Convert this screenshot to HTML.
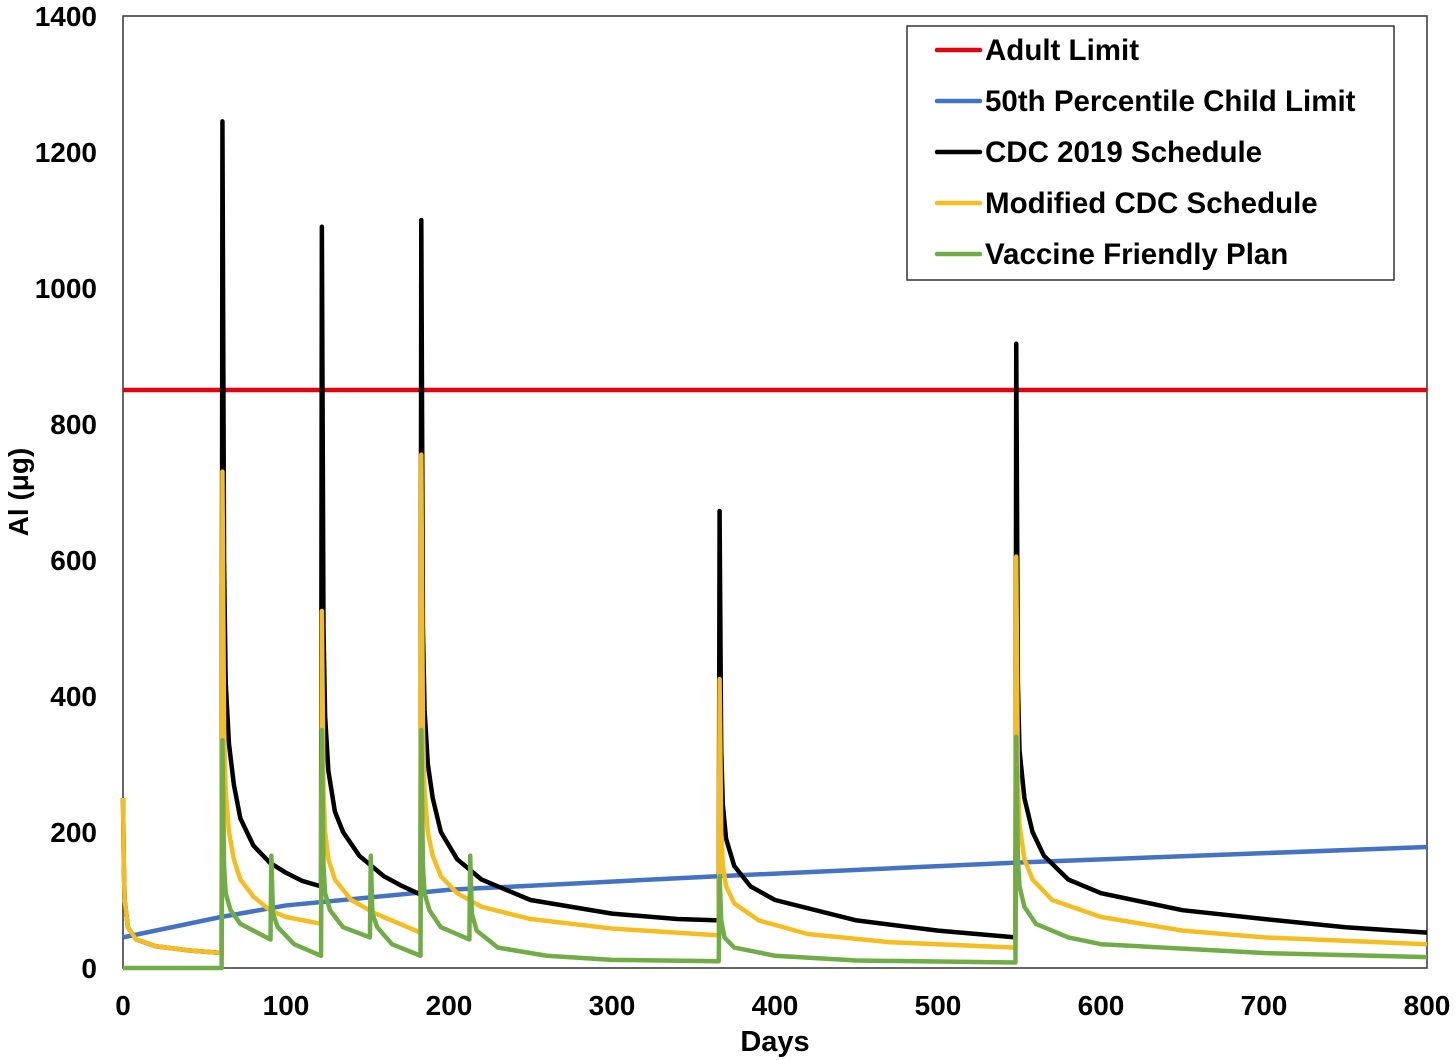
<!DOCTYPE html>
<html><head><meta charset="utf-8"><style>
body{margin:0;background:#fff;}
svg{display:block;font-family:"Liberation Sans",Arial,sans-serif;font-weight:bold;}
</style></head><body>
<svg id="chart" width="1456" height="1060" viewBox="0 0 1456 1060">
<rect x="123" y="16" width="1304" height="952" fill="none" stroke="#333" stroke-width="1.5"/>
<g id="yticks"></g>
<g id="xticks"></g>
<text x="775" y="1051" font-size="29" text-anchor="middle">Days</text>
<text x="0" y="0" font-size="28" text-anchor="middle" transform="translate(28,492) rotate(-90)">Al (μg)</text>
<g id="series"></g>
<g>
<rect x="907" y="26" width="487" height="254" fill="#fff" stroke="#333" stroke-width="1.5"/>
<g id="legend"></g>
</g>
</svg>
<script>
const yTicks=[0,200,400,600,800,1000,1200,1400];
const xTicks=[0,100,200,300,400,500,600,700,800];
const adultLimit=850;
const childDays=[0,60,100,200,365,548,800];
const childVals=[45,75,92,115,135,155,178];
const cdcDays=[0,0.5,1,3,8,20,40,60.5,61,62,63,65,68,72,80,90,100,110,121.5,122,123,124,126,130,135,145,160,170,182.5,183,184,185,187,190,195,205,220,250,300,340,365.5,366,367,368,370,375,385,400,450,500,547.5,548,549,550,553,558,565,580,600,650,700,750,800];
const cdcVals=[250,150,100,60,42,32,26,22,1245,600,420,330,270,220,180,155,140,128,120,1090,500,370,290,230,200,165,135,122,108,1100,500,380,300,250,200,160,130,100,80,72,70,672,320,240,190,150,120,100,70,55,45,918,420,320,250,200,165,130,110,85,72,60,52];
const modDays=[0,0.5,1,3,8,20,40,60.5,61,62,63,65,68,72,80,90,100,121.5,122,123,124,126,130,140,155,182.5,183,184,185,187,190,195,205,220,250,300,365.5,366,367,368,370,375,390,420,470,547.5,548,549,550,553,558,570,600,650,700,800];
const modVals=[250,150,100,60,42,32,26,22,730,350,260,200,160,130,105,85,75,65,525,260,200,160,130,100,80,52,755,350,260,200,165,135,110,90,72,58,48,425,200,150,120,95,70,50,38,30,605,280,210,160,130,100,75,55,45,35];
const vfpDays=[0,60.5,61,62,63,66,72,80,90.5,91,92,95,105,121.5,122,123,124,127,135,151.5,152,153,156,165,182.5,183,184,185,188,195,212.5,213,214,217,230,260,300,365.5,366,367,369,375,400,450,547.5,548,549,550,553,560,580,600,700,800];
const vfpVals=[0,0,335,150,110,85,65,55,42,165,80,60,35,18,350,150,110,85,60,45,165,80,60,35,18,350,150,110,85,60,42,165,80,55,30,18,12,10,135,70,45,30,18,11,8,340,160,120,90,65,45,35,22,16];
const seriesNames=["Adult Limit","50th Percentile Child Limit","CDC 2019 Schedule","Modified CDC Schedule","Vaccine Friendly Plan"];
const seriesColors=["#e3000f","#4472c4","#000000","#f5bd1f","#70ad47"];

const X0=123,X1=1427,Y0=968,Y1=16;
const xs=d=>X0+(d/800)*(X1-X0);
const ys=v=>Y0-(v/1400)*(Y0-Y1);
const NS="http://www.w3.org/2000/svg";
function mk(tag,attrs){const e=document.createElementNS(NS,tag);for(const k in attrs)e.setAttribute(k,attrs[k]);return e;}
const yg=document.getElementById('yticks');
yTicks.forEach(t=>{const e=mk('text',{x:97,y:ys(t)+10,'font-size':28,'text-anchor':'end'});e.textContent=t;


yg.appendChild(e);});
const xg=document.getElementById('xticks');
xTicks.forEach(t=>{const e=mk('text',{x:xs(t),y:1015,'font-size':28,'text-anchor':'middle'});e.textContent=t;


xg.appendChild(e);});
const sg=document.getElementById('series');
function line(days,vals,color,name){
 const p=mk('polyline',{points:days.map((d,i)=>xs(d)+','+ys(vals[i])).join(' '),fill:'none',stroke:color,'stroke-width':4.5,'stroke-linejoin':'round'});
 
 
 sg.appendChild(p);
}
line([0,800],[adultLimit,adultLimit],seriesColors[0],'adult-limit-line');
line(childDays,childVals,seriesColors[1],'child-limit-line');
line(cdcDays,cdcVals,seriesColors[2],'cdc-2019-line');
line(modDays,modVals,seriesColors[3],'modified-cdc-line');
line(vfpDays,vfpVals,seriesColors[4],'vaccine-friendly-line');
const lg=document.getElementById('legend');
seriesNames.forEach((n,i)=>{const y=50+i*51;
 const g=mk('g',{});
 
 
 g.appendChild(mk('line',{x1:937,x2:980,y1:y,y2:y,stroke:seriesColors[i],'stroke-width':4.5,'stroke-linecap':'round'}));
 const t=mk('text',{x:985,y:y+10,'font-size':29.5});t.textContent=n;g.appendChild(t);
 lg.appendChild(g);});
</script>
</body></html>
